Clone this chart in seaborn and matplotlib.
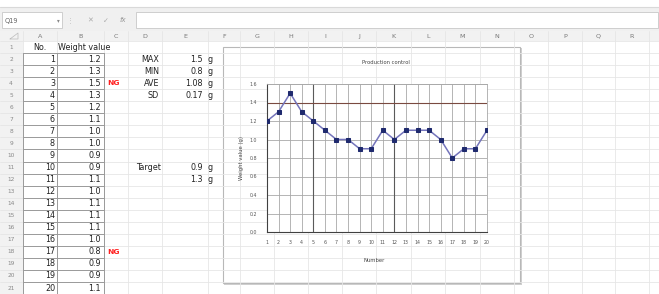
import numpy as np
import pandas as pd
import matplotlib
matplotlib.use("Agg")
import matplotlib.pyplot as plt
import seaborn as sns
from matplotlib.patches import Rectangle

# data
numbers = list(range(1, 21))
weights = [1.2, 1.3, 1.5, 1.3, 1.2, 1.1, 1.0, 1.0, 0.9, 0.9,
           1.1, 1.0, 1.1, 1.1, 1.1, 1.0, 0.8, 0.9, 0.9, 1.1]
target_lo = 0.9
target_hi = 1.3
col_names = ["A", "B", "C", "D", "E", "F", "G", "H", "I", "J",
             "K", "L", "M", "N", "O", "P", "Q", "R"]
stat_names = ["MAX", "MIN", "AVE", "SD"]

df = pd.DataFrame({"Number": numbers, "Weight value (g)": weights})
w = df["Weight value (g)"]
# excel style rounding (half up)
stat_vals = ["%.1f" % w.max(),
             "%.1f" % w.min(),
             "%.2f" % (w.mean() + 1e-9),
             "%.2f" % (w.std() + 1e-9)]

W, H = 659, 294
sns.set_style("white")
plt.rcParams['font.family'] = ['DejaVu Sans']
fig = plt.figure(figsize=(W / 100, H / 100), dpi=100)

# sheet background in pixel coords
bg = fig.add_axes([0, 0, 1, 1])
bg.set_xlim(0, W)
bg.set_ylim(H, 0)
bg.axis("off")

grid_c = "#e6e6e6"
head_c = "#f2f2f2"
txt_c = "#222222"

# formula bar
bg.add_patch(Rectangle((0, 7), W, 24, color="#f0f0f0", lw=0))
bg.plot([0, W], [7, 7], color="#d9d9d9", lw=0.8)
bg.add_patch(Rectangle((2, 12), 60, 16, fc="white", ec="#c8c8c8", lw=0.6))
bg.text(5, 20.5, "Q19", fontsize=4.8, color="#666666", va="center")
bg.text(58, 20.5, "▾", fontsize=4, color="#888888", va="center", ha="center")
bg.text(70, 20.5, "⋮", fontsize=5, color="#bbbbbb", va="center", ha="center")
bg.text(90, 20.5, "✕", fontsize=5, color="#aaaaaa", va="center", ha="center")
bg.text(106, 20.5, "✓", fontsize=5, color="#aaaaaa", va="center", ha="center")
bg.text(123, 20.5, "fx", fontsize=5, color="#999999", va="center", ha="center",
        style="italic")
bg.add_patch(Rectangle((136, 12), W - 137, 16, fc="white", ec="#c8c8c8", lw=0.6))

# column / row headers
col_edges = [23, 57, 104, 128, 162, 208, 240, 274, 308, 342, 376, 411,
             445, 480, 514, 548, 582, 615, 649, 690]
row_top = 41
row_h = 12.05
n_rows = 21
bg.add_patch(Rectangle((0, 31), W, 10, color=head_c, lw=0))
bg.add_patch(Rectangle((0, 41), 23, H - 41, color=head_c, lw=0))
bg.plot([10, 18, 18, 10], [39, 39, 33, 39], color="#bbbbbb", lw=0.5)
for i, name in enumerate(col_names):
    x0, x1 = col_edges[i], col_edges[i + 1]
    bg.text((x0 + x1) / 2, 36.5, name, fontsize=4.6, color="#777777",
            ha="center", va="center")
for x in col_edges:
    bg.plot([x, x], [31, H], color=grid_c, lw=0.6)
for r in range(n_rows + 1):
    y = row_top + r * row_h
    bg.plot([0, W], [y, y], color=grid_c, lw=0.6)
for r in range(n_rows):
    bg.text(11, row_top + (r + 0.5) * row_h, str(r + 1), fontsize=4.2,
            color="#888888", ha="center", va="center")

def cy(row):
    return row_top + (row - 0.5) * row_h

# table
fs = 5.8
bg.text(40, cy(1), "No.", fontsize=fs, color=txt_c, ha="center", va="center")
bg.text(58, cy(1), "Weight value", fontsize=fs, color=txt_c, ha="left", va="center")
for i, (n, v) in enumerate(zip(numbers, weights)):
    row = i + 2
    bg.text(55, cy(row), str(n), fontsize=fs, color=txt_c, ha="right", va="center")
    bg.text(101, cy(row), "%.1f" % v, fontsize=fs, color=txt_c, ha="right", va="center")
    if v < target_lo or v > target_hi:
        bg.text(107, cy(row), "NG", fontsize=5.4, color="#ff2020", ha="left",
                va="center", fontweight="bold")
top_b = row_top + row_h
bot_b = row_top + n_rows * row_h
for x in [23, 57, 104]:
    bg.plot([x, x], [top_b, bot_b], color="#9a9a9a", lw=0.7)
for r in range(1, n_rows + 1):
    y = row_top + r * row_h
    bg.plot([23, 104], [y, y], color="#9a9a9a", lw=0.7)

for i, (s, v) in enumerate(zip(stat_names, stat_vals)):
    row = i + 2
    bg.text(159, cy(row), s, fontsize=fs, color=txt_c, ha="right", va="center")
    bg.text(203, cy(row), v, fontsize=fs, color=txt_c, ha="right", va="center")
    bg.text(208, cy(row), "g", fontsize=fs, color=txt_c, ha="left", va="center")
bg.text(136, cy(11), "Target", fontsize=fs, color=txt_c, ha="left", va="center")
for row, v in [(11, target_lo), (12, target_hi)]:
    bg.text(203, cy(row), "%.1f" % v, fontsize=fs, color=txt_c, ha="right", va="center")
    bg.text(208, cy(row), "g", fontsize=fs, color=txt_c, ha="left", va="center")

# chart frame
bg.add_patch(Rectangle((224, 48), 298, 237, fc="#d0d0d0", lw=0))
bg.add_patch(Rectangle((223, 47), 297, 236, fc="white", ec="#b8b8b8", lw=0.8))
bg.text(386, 63, "Production control", fontsize=3.8, color="#444444",
        ha="center", va="center")
bg.text(374, 260, "Number", fontsize=3.8, color="#444444", ha="center", va="center")
bg.text(242, 158, "Weight value (g)", fontsize=3.8, color="#444444",
        ha="center", va="center", rotation=90)

# chart axes
px_l, px_r, px_t, px_b = 267, 487, 84, 232
ax = fig.add_axes([px_l / W, (H - px_b) / H, (px_r - px_l) / W, (px_b - px_t) / H])
ax.set_facecolor("white")
sns.lineplot(data=df, x="Number", y="Weight value (g)", ax=ax, color="#7474bb",
             lw=1.1, marker="s", markersize=3.2, markerfacecolor="#1f2a6e",
             markeredgecolor="#1f2a6e", zorder=5)
ax.set_xlim(1, 20)
ax.set_ylim(0, 1.6)
ax.set_xticks(numbers)
yt = np.arange(0, 1.61, 0.2)
ax.set_yticks(yt)
ax.set_yticklabels(["%.1f" % t for t in yt])
ax.set_xlabel("")
ax.set_ylabel("")
ax.grid(True, color="#a8a8a8", lw=0.6)
for x in [5, 12]:
    ax.axvline(x, color="#5a5a5a", lw=0.8, zorder=1)
ax.axhline(1.4, color="#7a4a40", lw=0.8, zorder=1)
for side in ["top", "right"]:
    ax.spines[side].set_color("#a8a8a8")
    ax.spines[side].set_linewidth(0.6)
for side in ["left", "bottom"]:
    ax.spines[side].set_color("#404040")
    ax.spines[side].set_linewidth(0.8)
ax.tick_params(axis="both", length=0, labelsize=3.4, labelcolor="#555555")
ax.tick_params(axis="y", pad=7)
ax.tick_params(axis="x", pad=6)

fig.savefig("out.png", dpi=100)
